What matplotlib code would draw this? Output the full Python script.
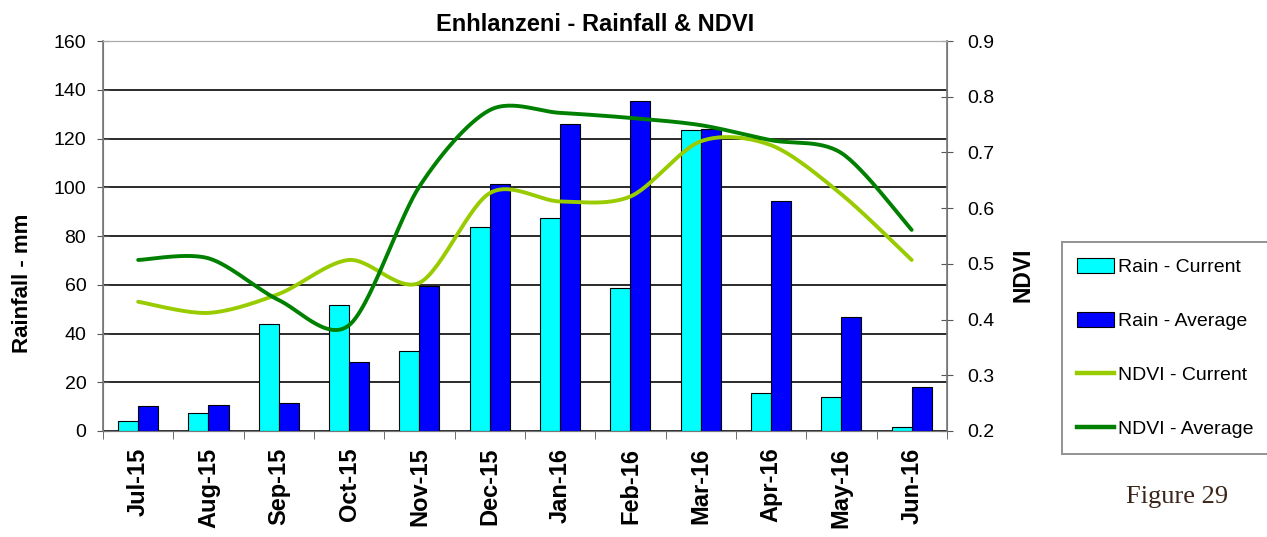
import numpy as np
import matplotlib
matplotlib.use("Agg")
import matplotlib.pyplot as plt
from matplotlib.patches import Patch
from matplotlib.lines import Line2D

months = ["Jul-15", "Aug-15", "Sep-15", "Oct-15", "Nov-15", "Dec-15",
          "Jan-16", "Feb-16", "Mar-16", "Apr-16", "May-16", "Jun-16"]
rain_current = [4, 7.5, 44, 51.5, 33, 83.5, 87.5, 58.5, 123.5, 15.7, 14, 1.5]
rain_average = [10.3, 10.7, 11.6, 28.4, 59.5, 101.3, 126, 135.4, 124, 94.4, 46.9, 18.2]
ndvi_current = [0.432, 0.412, 0.446, 0.507, 0.466, 0.627, 0.612, 0.621, 0.72, 0.713, 0.625, 0.507]
ndvi_average = [0.507, 0.51, 0.435, 0.39, 0.639, 0.776, 0.771, 0.762, 0.749, 0.722, 0.699, 0.561]

plt.rcParams['font.family'] = ['Liberation Sans', 'DejaVu Sans']


def smooth(y, n=30):
    # Catmull-Rom smoothing through the data points (Excel-style smoothed line)
    y = np.asarray(y, float)
    x = np.arange(len(y), dtype=float)
    P = np.concatenate([[y[0]], y, [y[-1]]])
    X = np.concatenate([[x[0]], x, [x[-1]]])
    xs, ys = [], []
    t = np.linspace(0, 1, n, endpoint=False)
    for i in range(1, len(P) - 2):
        p0, p1, p2, p3 = P[i - 1], P[i], P[i + 1], P[i + 2]
        q0, q1, q2, q3 = X[i - 1], X[i], X[i + 1], X[i + 2]
        m1 = (p2 - p0) / 2 * 0.9
        m2 = (p3 - p1) / 2 * 0.9
        k1 = (q2 - q0) / 2 * 0.9
        k2 = (q3 - q1) / 2 * 0.9
        h00 = 2 * t**3 - 3 * t**2 + 1
        h10 = t**3 - 2 * t**2 + t
        h01 = -2 * t**3 + 3 * t**2
        h11 = t**3 - t**2
        ys.append(h00 * p1 + h10 * m1 + h01 * p2 + h11 * m2)
        xs.append(h00 * q1 + h10 * k1 + h01 * q2 + h11 * k2)
    xs.append([x[-1]]); ys.append([y[-1]])
    return np.concatenate(xs), np.concatenate(ys)


fig = plt.figure(figsize=(12.67, 5.37), dpi=100)
ax = fig.add_axes([0.0813, 0.1974, 0.666, 0.7262])
ax2 = ax.twinx()

x = np.arange(len(months))
w = 0.285
ax.bar(x - w / 2, rain_current, w, color="#00FFFF", edgecolor="black", linewidth=0.8, zorder=3)
ax.bar(x + w / 2, rain_average, w, color="#0000FF", edgecolor="black", linewidth=0.8, zorder=3)

ax.set_xlim(-0.5, len(months) - 0.5)
ax.set_ylim(0, 160)
ax.set_yticks(np.arange(0, 161, 20))
ax.yaxis.grid(True, color="#2a2a2a", linewidth=1.4, zorder=1)
ax.set_axisbelow(True)
ax.set_xticks(x)
ax.set_xticklabels(months, rotation=90, fontsize=17, fontweight="bold")
ax.tick_params(axis="x", which="major", length=0, pad=12)
ax.set_xticks(np.arange(-0.5, len(months), 1), minor=True)
ax.tick_params(axis="x", which="minor", length=6, direction="out", color="#555555")
ax.tick_params(axis="y", direction="inout", length=8, color="#555555", labelsize=14, pad=8)

for s in ["left", "bottom", "right"]:
    ax.spines[s].set_color("#777777")
    ax2.spines[s].set_color("#777777")
ax.spines["top"].set_color("#aaaaaa")
ax2.spines["top"].set_color("#aaaaaa")
ax.spines["left"].set_linewidth(1.2)
ax2.spines["right"].set_linewidth(1.2)

xc, yc = smooth(ndvi_current)
xa, ya = smooth(ndvi_average)
ax2.plot(xc, yc, color="#99CC00", linewidth=2.8, solid_capstyle="round", zorder=4)
ax2.plot(xa, ya, color="#008000", linewidth=2.8, solid_capstyle="round", zorder=5)
ax2.set_ylim(0.2, 0.9)
ax2.set_yticks(np.arange(0.2, 0.91, 0.1))
ax2.set_yticklabels([f"{v:.1f}" for v in np.arange(0.2, 0.91, 0.1)])
ax2.tick_params(axis="y", direction="inout", length=8, color="#555555", labelsize=14, pad=11)

fig.text(0.018, 0.473, "Rainfall - mm", rotation=90, ha="center", va="center",
         fontsize=16, fontweight="bold")
fig.text(0.8074, 0.488, "NDVI", rotation=90, ha="center", va="center",
         fontsize=16.5, fontweight="bold")
fig.text(0.4696, 0.955, "Enhlanzeni - Rainfall & NDVI", ha="center", va="center",
         fontsize=17, fontweight="bold")

handles = [Patch(facecolor="#00FFFF", edgecolor="black", linewidth=0.8),
           Patch(facecolor="#0000FF", edgecolor="black", linewidth=0.8),
           Line2D([], [], color="#99CC00", linewidth=3.2),
           Line2D([], [], color="#008000", linewidth=3.2)]
labels = ["Rain - Current", "Rain - Average", "NDVI - Current", "NDVI - Average"]
leg = fig.legend(handles, labels, loc="upper left", bbox_to_anchor=(0.838, 0.549),
                 frameon=True, fancybox=False, fontsize=14, labelspacing=1.85,
                 handlelength=1.9, handleheight=0.8, handletextpad=0.2,
                 borderpad=0.8, borderaxespad=0)
leg.get_frame().set_edgecolor("#777777")
leg.get_frame().set_linewidth(1.4)

fig.text(0.929, 0.0745, "Figure 29", ha="center", va="center", fontsize=19,
         color="#3b2418", family=["Liberation Serif", "DejaVu Serif"])

fig.savefig("out.png", dpi=100)
